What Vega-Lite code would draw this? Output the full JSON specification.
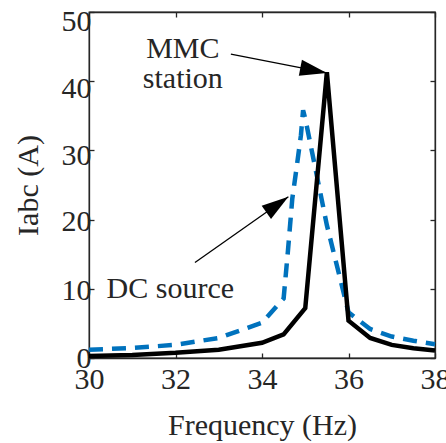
{
  "$schema": "https://vega.github.io/schema/vega-lite/v6.json",
  "width": 346,
  "height": 346,
  "autosize": {"type": "none"},
  "padding": {"left": 89, "top": 12, "right": 11, "bottom": 85},
  "background": "white",
  "config": {
    "view": {"stroke": "#262626", "strokeWidth": 1.3},
    "font": "Liberation Serif",
    "axis": {
      "domainColor": "#262626", "tickColor": "#262626", "labelColor": "#262626", "titleColor": "#262626",
      "labelFont": "Liberation Serif", "titleFont": "Liberation Serif",
      "labelFontSize": 30, "titleFontSize": 30, "titleFontWeight": "normal",
      "grid": false, "tickSize": -5, "tickWidth": 1.3, "domainWidth": 1.3
    }
  },
  "datasets": {
    "curves": [
      {"series": "DC source", "f": 30, "i": 1.2},
      {"series": "DC source", "f": 31, "i": 1.45},
      {"series": "DC source", "f": 32, "i": 1.9},
      {"series": "DC source", "f": 33, "i": 2.9},
      {"series": "DC source", "f": 34, "i": 5.1},
      {"series": "DC source", "f": 34.5, "i": 8.6},
      {"series": "DC source", "f": 34.6, "i": 15.5},
      {"series": "DC source", "f": 34.7, "i": 23},
      {"series": "DC source", "f": 34.8, "i": 27.5},
      {"series": "DC source", "f": 34.9, "i": 32.2},
      {"series": "DC source", "f": 34.95, "i": 35.8},
      {"series": "DC source", "f": 35, "i": 34.6},
      {"series": "DC source", "f": 35.5, "i": 19.2},
      {"series": "DC source", "f": 36, "i": 6.6},
      {"series": "DC source", "f": 36.5, "i": 4.2},
      {"series": "DC source", "f": 37, "i": 3.1},
      {"series": "DC source", "f": 37.5, "i": 2.5},
      {"series": "DC source", "f": 38, "i": 2.0},
      {"series": "MMC station", "f": 30, "i": 0.3},
      {"series": "MMC station", "f": 31, "i": 0.45},
      {"series": "MMC station", "f": 32, "i": 0.75},
      {"series": "MMC station", "f": 33, "i": 1.2},
      {"series": "MMC station", "f": 34, "i": 2.2},
      {"series": "MMC station", "f": 34.5, "i": 3.4},
      {"series": "MMC station", "f": 35, "i": 7.2},
      {"series": "MMC station", "f": 35.5, "i": 41.3},
      {"series": "MMC station", "f": 36, "i": 5.4},
      {"series": "MMC station", "f": 36.5, "i": 2.9},
      {"series": "MMC station", "f": 37, "i": 1.9},
      {"series": "MMC station", "f": 37.5, "i": 1.4},
      {"series": "MMC station", "f": 38, "i": 1.1}
    ],
    "labels": [
      {"text": "MMC", "f": 32.17, "i": 43.4},
      {"text": "station", "f": 32.17, "i": 39.0},
      {"text": "DC source", "f": 31.88, "i": 8.7}
    ],
    "arrows": [
      {"f": 33.28, "i": 43.9, "f2": 35.5, "i2": 41.2, "ang": 11},
      {"f": 32.45, "i": 13.8, "f2": 34.61, "i2": 23.3, "ang": 324.7}
    ]
  },
  "resolve": {"axis": {"x": "independent", "y": "independent"}},
  "layer": [
    {
      "data": {"name": "curves"},
      "transform": [{"filter": "datum.series === 'DC source'"}],
      "mark": {"type": "line", "color": "#0072BD", "strokeWidth": 4.5, "strokeDash": [14, 9]},
      "encoding": {
        "x": {"field": "f", "type": "quantitative", "scale": {"domain": [30, 38], "nice": false},
          "axis": {"orient": "bottom", "values": [30, 32, 34, 36, 38], "labelFlush": false, "labelPadding": 11, "title": "Frequency (Hz)", "titlePadding": 16}},
        "y": {"field": "i", "type": "quantitative", "scale": {"domain": [0, 50], "nice": false},
          "axis": {"orient": "left", "values": [0, 10, 20, 30, 40, 50], "labelPadding": 3,
            "labelOffset": {"condition": [{"test": "datum.value >= 45", "value": 9}, {"test": "datum.value >= 35", "value": 7}, {"test": "datum.value >= 25", "value": 5}, {"test": "datum.value >= 5", "value": 2}], "value": 0},
            "labelFlush": false, "title": "Iabc (A)", "titlePadding": 18}}
      }
    },
    {
      "data": {"name": "curves"},
      "transform": [{"filter": "datum.series === 'MMC station'"}],
      "mark": {"type": "line", "color": "#000000", "strokeWidth": 4.5},
      "encoding": {
        "x": {"field": "f", "type": "quantitative", "axis": null},
        "y": {"field": "i", "type": "quantitative", "axis": null}
      }
    },
    {
      "data": {"name": "arrows"},
      "mark": {"type": "rule", "color": "#000000", "strokeWidth": 1.3},
      "encoding": {
        "x": {"field": "f", "type": "quantitative", "axis": null},
        "y": {"field": "i", "type": "quantitative", "axis": null},
        "x2": {"field": "f2"},
        "y2": {"field": "i2"}
      }
    },
    {
      "data": {"name": "arrows"},
      "mark": {"type": "point", "shape": "M 0 0 L -1 -0.3 L -1 0.3 Z", "size": 2916, "filled": true, "color": "#000000", "opacity": 1, "strokeWidth": 0},
      "encoding": {
        "x": {"field": "f2", "type": "quantitative", "axis": null},
        "y": {"field": "i2", "type": "quantitative", "axis": null},
        "angle": {"field": "ang", "type": "quantitative", "scale": null}
      }
    },
    {
      "data": {"name": "labels"},
      "mark": {"type": "text", "font": "Liberation Serif", "fontSize": 30, "align": "center", "baseline": "alphabetic", "color": "#262626"},
      "encoding": {
        "x": {"field": "f", "type": "quantitative",
          "axis": {"orient": "top", "values": [30, 32, 34, 36, 38], "labels": false, "title": null}},
        "y": {"field": "i", "type": "quantitative",
          "axis": {"orient": "right", "values": [0, 10, 20, 30, 40, 50], "labels": false, "title": null}},
        "text": {"field": "text"}
      }
    }
  ]
}
